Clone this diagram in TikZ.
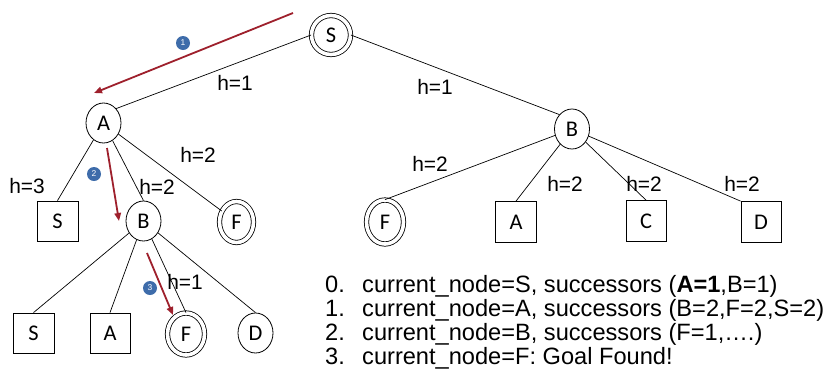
\documentclass[tikz,border=0pt]{standalone}
\usepackage{fontspec}
\setmainfont{Liberation Sans}
\newfontfamily\nodefont{Carlito}
\usetikzlibrary{shapes.geometric,arrows.meta}

\definecolor{tracered}{RGB}{158,32,44}
\definecolor{badgeblue}{RGB}{62,108,170}

\begin{document}
\begin{tikzpicture}[x=1bp,y=-1bp,
  every node/.style={inner sep=0pt},
  edge/.style={line width=0.7bp},
  state/.style={draw, ellipse, line width=0.8bp, minimum width=35bp, minimum height=40bp,
    font=\nodefont\fontsize{22.5}{24}\selectfont},
  goal/.style={state, double, double distance=3.6bp},
  leaf/.style={draw, rectangle, line width=0.8bp, minimum width=40bp, minimum height=40bp,
    font=\nodefont\fontsize{22.5}{24}\selectfont},
  hlabel/.style={font=\fontsize{21}{21}\selectfont},
  trace/.style={draw=tracered, line width=1.8bp, -{Triangle[length=8bp,width=6.5bp]}},
  badge/.style={circle, fill=badgeblue, minimum size=14bp, text=white,
    font=\fontsize{8.5}{8.5}\selectfont},
  listtext/.style={anchor=base west, font=\fontsize{23.7}{24}\selectfont}
]
\useasboundingbox (0,0) rectangle (836,383);

% search tree nodes
\node[goal, minimum width=39bp, minimum height=39bp] (S) at (331,35) {S};
\node[state] (A) at (103.5,123) {A};
\node[state] (B2) at (572,129) {B};

\node[leaf, minimum width=41bp] (SA) at (57.5,221) {S};
\node[state] (BA) at (143.5,221) {B};
\node[goal, minimum width=34bp, minimum height=41bp] (FA) at (236.5,222) {F};

\node[leaf, minimum width=41bp] (SB) at (33.5,333) {S};
\node[leaf] (AB) at (110,333) {A};
\node[goal, minimum width=37bp, minimum height=42bp] (FB) at (186,334) {F};
\node[state] (DB) at (255.5,333) {D};

\node[goal, minimum width=37bp, minimum height=44bp] (FR) at (385,222) {F};
\node[leaf, minimum width=41bp, minimum height=41bp] (AR) at (516,222) {A};
\node[leaf, minimum height=41bp] (CR) at (646,221) {C};
\node[leaf, minimum height=41bp] (DR) at (761,222) {D};

% tree edges
\draw[edge] (S.west) -- (A.north east);
\draw[edge] (S.east) -- (B2.north west);
\draw[edge] (A) -- (SA.north);
\draw[edge] (A) -- (BA.north);
\draw[edge] (A) -- (FA);
\draw[edge] (BA) -- (SB.north);
\draw[edge] (BA) -- (AB.north);
\draw[edge] (BA) -- (FB.north);
\draw[edge] (BA) -- (DB.north);
\draw[edge] (B2) -- (FR.north);
\draw[edge] (B2) -- (AR.north);
\draw[edge] (B2) -- (CR.north);
\draw[edge] (B2) -- (DR.north west);

% heuristic values
\node[hlabel] (h1) at (235,83) {h=1};
\node[hlabel] (h2) at (435,87) {h=1};
\node[hlabel] (h3) at (27,186) {h=3};
\node[hlabel] (h4) at (198,155) {h=2};
\node[hlabel] (h5) at (157,187) {h=2};
\node[hlabel] (h6) at (185,282) {h=1};
\node[hlabel] (h7) at (430,164) {h=2};
\node[hlabel] (h8) at (565,184) {h=2};
\node[hlabel] (h9) at (644,184) {h=2};
\node[hlabel] (h10) at (742,184) {h=2};

% search trace
\coordinate (t1s) at (293,13);
\coordinate (t1e) at (94,93);
\coordinate (t2s) at (107,148);
\coordinate (t2e) at (119,221);
\coordinate (t3s) at (147,253);
\coordinate (t3e) at (173,315);
\draw[trace] (t1s) -- (t1e);
\draw[trace] (t2s) -- (t2e);
\draw[trace] (t3s) -- (t3e);

\node[badge] (b1) at (183,43) {1};
\node[badge] (b2) at (94,174) {2};
\node[badge] (b3) at (150,288) {3};

% steps of the search
\node[listtext] (n0) at (325,292) {0.};
\node[listtext] (n1) at (325,316) {1.};
\node[listtext] (n2) at (325,340) {2.};
\node[listtext] (n3) at (325,364) {3.};
\node[listtext] (l0) at (362,292) {current\_node=S, successors (\textbf{A=1},B=1)};
\node[listtext] (l1) at (362,316) {current\_node=A, successors (B=2,F=2,S=2)};
\node[listtext] (l2) at (362,340) {current\_node=B, successors (F=1,….)};
\node[listtext] (l3) at (362,364) {current\_node=F: Goal Found!};
\end{tikzpicture}
\end{document}
